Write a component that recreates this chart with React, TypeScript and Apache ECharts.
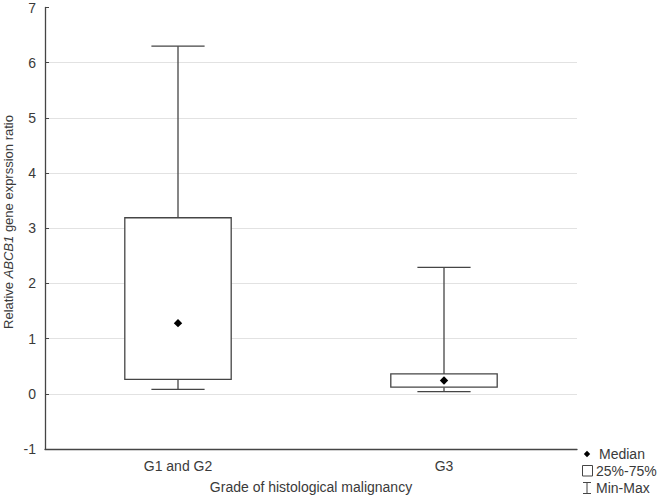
import React, { useEffect, useRef } from "react";
import * as echarts from "echarts";

const categories = ["G1 and G2", "G3"];
const minValues = [0.08, 0.04];
const q1Values = [0.26, 0.12];
const medianValues = [1.28, 0.24];
const q3Values = [3.19, 0.36];
const maxValues = [6.3, 2.29];
const yMinTick = -1;
const yMaxTick = 7;
const legendLabels = ["Median", "25%-75%", "Min-Max"];
const yTitle = "Relative {i|ABCB1} gene exprssion ratio";
const xTitle = "Grade of histological malignancy";

const FONT = "'Liberation Sans', Arial, sans-serif";
const TEXT = "#3a3a3a";
const LINE = "#454545";

export default function App() {
  const ref = useRef<HTMLDivElement>(null);
  useEffect(() => {
    if (!ref.current) return;
    const chart = echarts.init(ref.current, undefined, { renderer: "svg" });
    const data = categories.map((_, i) => [
      i,
      minValues[i],
      q1Values[i],
      medianValues[i],
      q3Values[i],
      maxValues[i],
    ]);
    const nLines = yMaxTick - yMinTick + 1;
    const gridColors = Array.from({ length: nLines }, (_, k) =>
      k === 0 || k === nLines - 1 ? "rgba(0,0,0,0)" : "#e2e2e2"
    );
    const lx = 587;
    const legendY = [454, 471, 488];
    chart.setOption({
      animation: false,
      grid: { left: 45, top: 7.5, right: 84, bottom: 50, containLabel: false, outerBoundsMode: "none" },
      xAxis: {
        type: "category",
        data: categories,
        boundaryGap: true,
        name: xTitle,
        nameLocation: "middle",
        nameGap: 31,
        nameTextStyle: { fontFamily: FONT, fontSize: 14, color: TEXT },
        axisLine: { onZero: false, lineStyle: { color: LINE, width: 1.3 } },
        axisTick: { inside: true, length: 4, alignWithLabel: true, lineStyle: { color: LINE } },
        axisLabel: { fontFamily: FONT, fontSize: 14, color: TEXT, margin: 10 },
        splitLine: { show: false },
      },
      yAxis: {
        type: "value",
        min: yMinTick,
        max: yMaxTick,
        interval: 1,
        axisLine: { show: true, onZero: false, lineStyle: { color: LINE, width: 1.3 } },
        axisTick: { show: true, inside: true, length: 4, lineStyle: { color: LINE } },
        axisLabel: { fontFamily: FONT, fontSize: 14, color: TEXT, margin: 9 },
        splitLine: { show: true, lineStyle: { color: gridColors, width: 1.2 } },
      },
      series: [
        {
          type: "custom",
          data,
          encode: { x: 0, y: [1, 2, 3, 4, 5] },
          renderItem: (params: any, api: any) => {
            const i = api.value(0);
            const x = api.coord([i, 0])[0];
            const band = api.size([1, 0])[0];
            const boxW = band * 0.4;
            const capW = boxW / 2;
            const yMin = api.coord([i, api.value(1)])[1];
            const yQ1 = api.coord([i, api.value(2)])[1];
            const yMed = api.coord([i, api.value(3)])[1];
            const yQ3 = api.coord([i, api.value(4)])[1];
            const yMax = api.coord([i, api.value(5)])[1];
            const ls = { stroke: LINE, lineWidth: 1.3, fill: "none" };
            const d = 4.2;
            return {
              type: "group",
              children: [
                { type: "line", shape: { x1: x, y1: yMax, x2: x, y2: yQ3 }, style: ls },
                { type: "line", shape: { x1: x, y1: yQ1, x2: x, y2: yMin }, style: ls },
                { type: "line", shape: { x1: x - capW / 2, y1: yMax, x2: x + capW / 2, y2: yMax }, style: ls },
                { type: "line", shape: { x1: x - capW / 2, y1: yMin, x2: x + capW / 2, y2: yMin }, style: ls },
                {
                  type: "rect",
                  shape: { x: x - boxW / 2, y: yQ3, width: boxW, height: yQ1 - yQ3 },
                  style: { stroke: LINE, lineWidth: 1.3, fill: "#ffffff" },
                },
                {
                  type: "polygon",
                  shape: { points: [[x, yMed - d], [x + d, yMed], [x, yMed + d], [x - d, yMed]] },
                  style: { fill: "#000000", stroke: "none" },
                },
              ],
            };
          },
        },
      ],
      graphic: [
        {
          type: "text",
          x: 8,
          y: 222,
          rotation: Math.PI / 2,
          style: {
            text: yTitle,
            fontFamily: FONT,
            fontSize: 13,
            fill: TEXT,
            align: "center",
            verticalAlign: "middle",
            rich: { i: { fontStyle: "italic", fontFamily: FONT, fontSize: 13, fill: TEXT } },
          },
        },
        {
          type: "polygon",
          shape: { points: [[lx, legendY[0] - 3.2], [lx + 3.2, legendY[0]], [lx, legendY[0] + 3.2], [lx - 3.2, legendY[0]]] },
          style: { fill: "#000" },
        },
        {
          type: "rect",
          shape: { x: lx - 4.5, y: legendY[1] - 5.5, width: 10, height: 10.5 },
          style: { fill: "none", stroke: LINE, lineWidth: 1 },
        },
        { type: "line", shape: { x1: lx - 4, y1: legendY[2] - 5.5, x2: lx + 4, y2: legendY[2] - 5.5 }, style: { stroke: LINE, lineWidth: 1 } },
        { type: "line", shape: { x1: lx, y1: legendY[2] - 5.5, x2: lx, y2: legendY[2] + 5.5 }, style: { stroke: LINE, lineWidth: 1 } },
        { type: "line", shape: { x1: lx - 4, y1: legendY[2] + 5.5, x2: lx + 4, y2: legendY[2] + 5.5 }, style: { stroke: LINE, lineWidth: 1 } },
        ...legendLabels.map((t, k) => ({
          type: "text",
          x: k === 0 ? 599 : 596,
          y: legendY[k],
          style: { text: t, fontFamily: FONT, fontSize: 14, fill: TEXT, verticalAlign: "middle", align: "left" },
        })),
      ],
    });
    return () => chart.dispose();
  }, []);
  return (
    <div
      ref={ref}
      style={{ position: "fixed", left: 0, top: 0, width: 661, height: 499, background: "#fff" }}
    />
  );
}
